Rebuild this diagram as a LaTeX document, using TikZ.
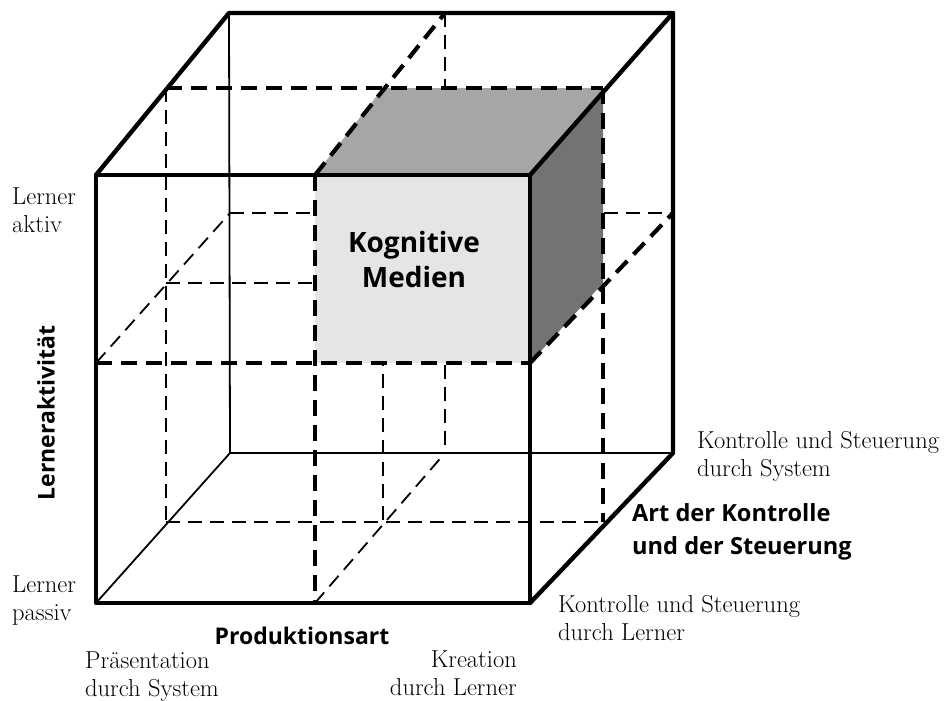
\documentclass[tikz,border=0pt]{standalone}
\usepackage{fontspec}
\newfontfamily\lblsans{Open Sans}
\begin{document}
\begin{tikzpicture}[x=1pt,y=-1pt,
  thickline/.style={line width=4.4pt, line join=round, line cap=round},
  thinline/.style={line width=1.8pt, line join=round},
  thickdash/.style={line width=4.2pt, dash pattern=on 16pt off 9pt},
  thindash/.style={line width=1.8pt, dash pattern=on 14pt off 8pt},
  serifl/.style={font=\fontsize{24.5}{28}\selectfont, align=left, inner sep=0pt},
  serifr/.style={font=\fontsize{24.5}{28}\selectfont, align=right, inner sep=0pt},
  axislbl/.style={font=\lblsans\bfseries\fontsize{23}{33}\selectfont, inner sep=0pt},
  frontfill/.style={fill=black!10},
  topfill/.style={fill=black!35},
  sidefill/.style={fill=black!55}]
\useasboundingbox (0,0) rectangle (945,701);
% front plane
\coordinate (F00) at (96,603);  \coordinate (F10) at (315,603); \coordinate (F20) at (530,603);
\coordinate (F01) at (96,363);  \coordinate (F11) at (315,363); \coordinate (F21) at (530,363);
\coordinate (F02) at (96,175);  \coordinate (F12) at (315,175); \coordinate (F22) at (530,175);
% middle plane
\coordinate (M00) at (166,522); \coordinate (M10) at (383,522); \coordinate (M20) at (603,522);
\coordinate (M01) at (166,283); \coordinate (M11) at (383,283); \coordinate (M21) at (603,283);
\coordinate (M02) at (166,88);  \coordinate (M12) at (383,88);  \coordinate (M22) at (603,88);
% back plane
\coordinate (B00) at (230,453); \coordinate (B10) at (445,453); \coordinate (B20) at (673,453);
\coordinate (B01) at (230,213); \coordinate (B11) at (445,213); \coordinate (B21) at (673,213);
\coordinate (B02) at (229,13);  \coordinate (B12) at (445,13);  \coordinate (B22) at (673,13);

% hidden edges
\draw[thinline] (B02) -- (B00) -- (B20);
\draw[thinline] (F00) -- (B00);
% hidden division lines
\draw[thindash] (M02) -- (M00);
\draw[thindash] (F01) -- (B01);
\draw[thindash] (B12) -- (B10);
\draw[thindash] (B01) -- (B21);
\draw[thindash] (M12) -- (M10);
\draw[thindash] (M01) -- (M21);
\draw[thindash] (M00) -- (M20);
\draw[thindash] (F10) -- (B10);

% shaded sub-cube
\fill[frontfill] (F12) rectangle (F21);
\fill[topfill] (F12) -- (M12) -- (M22) -- (F22) -- cycle;
\fill[sidefill] (F22) -- (M22) -- (M21) -- (F21) -- cycle;

% visible division lines
\draw[thickdash] (F12) -- (F10);
\draw[thickdash] (F01) -- (F21);
\draw[thickdash] (M02) -- (M22);
\draw[thickdash] (F12) -- (B12);
\draw[thickdash] (M22) -- (M20);
\draw[thickdash] (F21) -- (B21);

% visible outer edges
\draw[thickline] (F00) -- (F20) -- (F22) -- (F02) -- cycle;
\draw[thickline] (F02) -- (B02) -- (B22) -- (F22);
\draw[thickline] (B22) -- (B20) -- (F20);

% labels
\node[axislbl, align=center, font=\lblsans\bfseries\fontsize{28}{35}\selectfont] (kog) at (414,259) {Kognitive\\Medien};
\node[serifl, anchor=north west] (aktiv) at (12,188) {Lerner\\aktiv};
\node[serifl, anchor=north west] (passiv) at (12,576) {Lerner\\passiv};
\node[axislbl, rotate=90] (lakt) at (46,413) {Lerneraktivität};
\node[axislbl] (prod) at (302,636) {Produktionsart};
\node[serifl, anchor=north west] (praes) at (85,652) {Präsentation\\durch System};
\node[serifr, anchor=north east] (krea) at (517,651) {Kreation\\durch Lerner};
\node[serifl, anchor=north west] (ksl) at (558,595) {Kontrolle und Steuerung\\durch Lerner};
\node[serifl, anchor=north west] (kss) at (697,431) {Kontrolle und Steuerung\\durch System};
\node[axislbl, align=left, anchor=west, font=\lblsans\bfseries\fontsize{23.6}{33}\selectfont] (art) at (632,532) {Art der Kontrolle\\und der Steuerung};
\end{tikzpicture}
\end{document}
